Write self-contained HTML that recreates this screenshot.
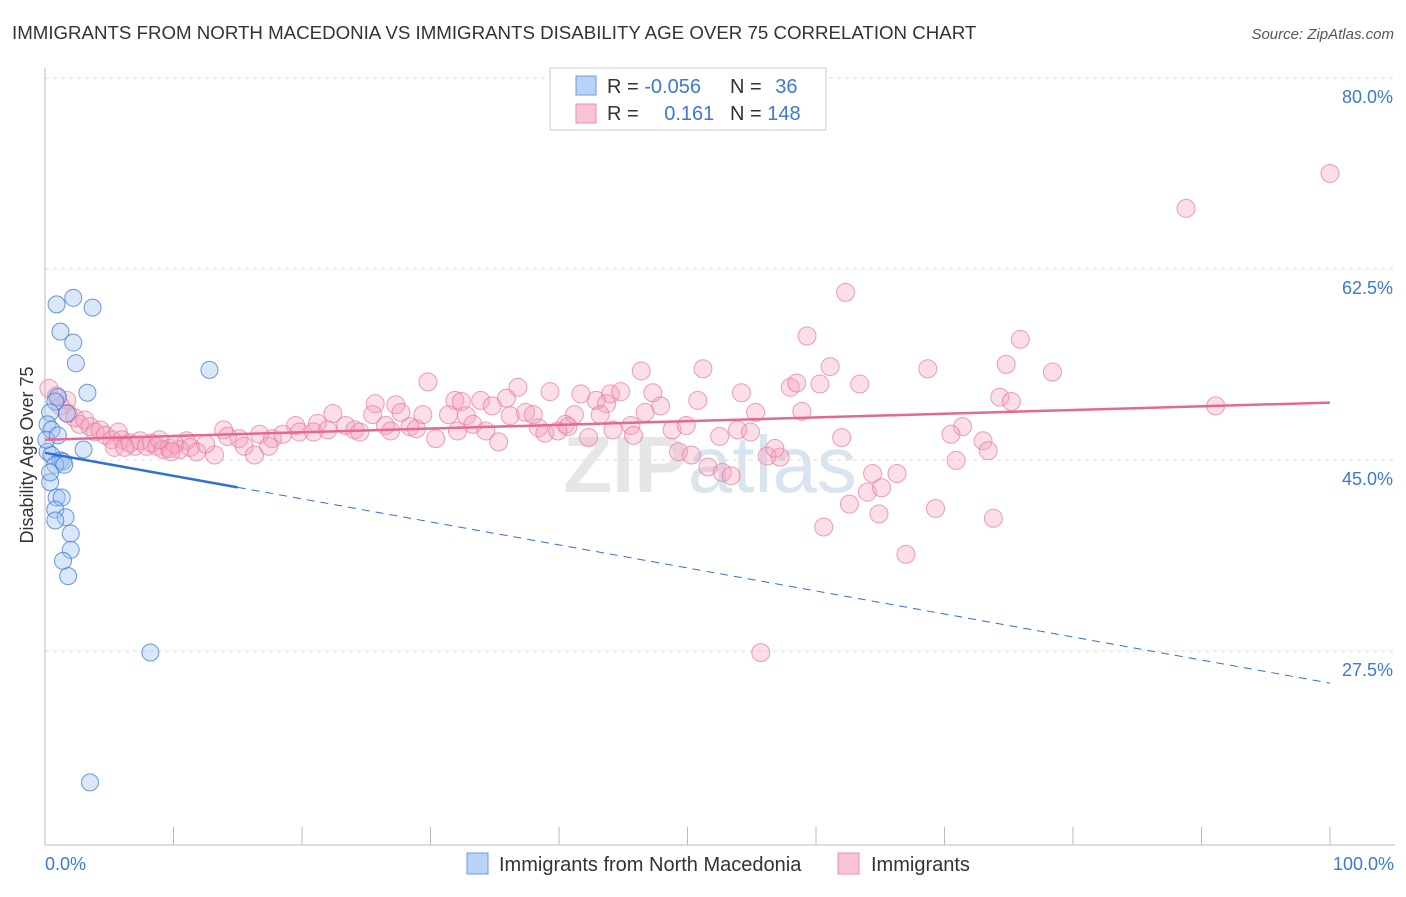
<!DOCTYPE html>
<html><head><meta charset="utf-8"><style>
body{margin:0;background:#fff;font-family:"Liberation Sans",sans-serif;}
svg text{font-family:"Liberation Sans",sans-serif;}
</style></head><body>
<svg width="1406" height="892" xmlns="http://www.w3.org/2000/svg">
<text x="12" y="39" font-size="18.7" fill="#333">IMMIGRANTS FROM NORTH MACEDONIA VS IMMIGRANTS DISABILITY AGE OVER 75 CORRELATION CHART</text>
<text x="1394" y="39" font-size="15" fill="#555" text-anchor="end" font-style="italic">Source: ZipAtlas.com</text>
<text x="710" y="492" font-size="80" fill="#e6e6e6" text-anchor="middle" font-weight="bold">ZIP<tspan font-weight="normal" fill="#d9e4f1">atlas</tspan></text>
<g id="grid"></g>
<g id="axes"></g>
<g id="marks"></g>
<text transform="translate(33,455) rotate(-90)" font-size="18" fill="#333" text-anchor="middle">Disability Age Over 75</text>
<text x="45" y="870" font-size="18" fill="#3b78d8">0.0%</text>
<text x="1394" y="870" font-size="18" fill="#3b78d8" text-anchor="end">100.0%</text>
<g>
<rect x="550" y="68" width="276" height="62" fill="#fff" stroke="#ccc"/>
<rect x="576" y="76" width="20" height="19" fill="#b8d3f5" stroke="#6a9de0"/>
<rect x="576" y="104" width="20" height="19" fill="#f8c4d4" stroke="#ec8fac"/>
<text x="607" y="93" font-size="20" fill="#333">R = <tspan fill="#3b78d8">-0.056</tspan></text>
<text x="730" y="93" font-size="20" fill="#333">N = <tspan fill="#3b78d8" dx="8">36</tspan></text>
<text x="607" y="120" font-size="20" fill="#333">R = <tspan fill="#3b78d8" dx="20">0.161</tspan></text>
<text x="730" y="120" font-size="20" fill="#333">N = <tspan fill="#3b78d8">148</tspan></text>
</g>
<g>
<rect x="467" y="853" width="21" height="21" fill="#b8d3f5" stroke="#6a9de0"/>
<text x="499" y="871" font-size="20" fill="#333">Immigrants from North Macedonia</text>
<rect x="838" y="853" width="21" height="21" fill="#f8c4d4" stroke="#ec8fac"/>
<text x="871" y="871" font-size="20" fill="#333">Immigrants</text>
</g>
</svg>
<script>
const yTicks=[80,62.5,45,27.5];
const yTickLabels=["80.0%","62.5%","45.0%","27.5%"];
const xTicks=[0,10,20,30,40,50,60,70,80,90,100];
const blueX=[0.9,2.2,3.7,1.2,2.2,2.4,12.8,3.3,1.0,0.8,1.7,0.4,0.2,0.5,3.0,0.2,0.5,1.2,1.4,0.8,0.4,0.9,1.3,0.8,1.6,0.8,2.0,2.0,1.4,1.8,8.2,3.5,0.1,1.0,0.4,1.5];
const blueY=[61.0,61.6,60.7,58.5,57.5,55.6,55.0,52.9,52.5,52.1,51.0,51.1,50.0,49.5,47.7,47.5,47.2,46.7,46.6,46.3,44.7,43.3,43.3,42.2,41.5,41.2,40.0,38.5,37.5,36.1,29.1,17.2,48.6,49.0,45.6,46.3];
const pinkX=[100,88.8,62.3,59.3,75.9,61.1,74.8,51.2,46.4,68.7,78.4,63.4,58.0,58.5,60.3,54.2,74.3,75.2,91.1,50.8,55.3,58.9,48.8,49.9,52.5,53.9,54.9,62.0,71.4,70.5,73.0,73.4,70.9,49.3,50.3,51.6,52.7,53.4,56.2,57.2,56.8,64.4,66.3,64.0,65.1,62.6,64.9,69.3,73.8,60.6,67.0,55.7,
29.8,36.8,39.3,41.7,44.0,44.8,47.3,25.7,27.3,31.9,32.4,33.9,35.9,34.8,42.9,43.7,47.9,22.4,25.5,27.7,29.4,31.4,32.8,36.2,37.4,38.0,41.2,43.2,46.7,19.5,21.2,23.4,26.5,28.4,33.3,38.4,40.5,40.7,44.2,45.6,15.1,16.7,17.7,18.5,19.8,20.9,22.0,24.1,24.5,26.9,28.9,30.4,32.1,34.3,35.3,38.9,39.9,42.3,45.8,13.9,14.2,15.5,16.3,17.4,13.2,11.8,12.5,11.0,10.5,
0.3,0.9,1.7,1.2,1.8,2.3,2.7,3.1,3.5,3.9,4.3,4.7,5.2,5.7,6.0,6.6,7.0,7.4,7.9,8.3,8.7,9.2,9.7,10.1,5.4,6.2,9.8,11.3,8.9];
const pinkY=[73.0,69.8,62.1,58.1,57.8,55.3,55.5,55.1,54.9,55.1,54.8,53.7,53.4,53.8,53.7,52.9,52.5,52.1,51.7,52.2,51.1,51.2,49.5,49.9,48.9,49.5,49.3,48.8,49.8,49.1,48.5,47.6,46.7,47.5,47.2,46.1,45.6,45.3,47.1,47.0,47.8,45.5,45.5,43.8,44.2,42.7,41.8,42.3,41.4,40.6,38.1,29.1,
53.9,53.4,53.0,52.8,52.8,53.0,52.9,51.9,51.8,52.2,52.1,52.2,52.4,51.7,52.2,51.9,51.7,51.0,50.9,51.1,50.9,50.9,50.8,50.8,51.1,50.9,50.9,50.9,51.1,49.9,50.1,49.9,49.9,49.8,50.0,49.7,50.0,49.8,49.5,49.9,48.7,49.1,48.7,49.1,49.3,49.3,49.5,49.5,49.3,49.4,49.6,48.7,49.4,49.4,48.4,49.2,49.4,48.8,49.0,49.5,48.9,48.0,47.2,48.0,47.2,47.5,48.2,48.5,47.7,
53.3,52.6,52.2,51.7,51.0,50.6,50.0,50.4,49.8,49.3,49.5,49.0,48.6,49.3,48.6,48.3,48.0,48.5,48.0,48.3,48.0,47.7,47.8,48.2,47.9,47.9,47.5,47.9,48.6];
const pinkTrend=[[0,48.6],[100,52.0]];
const blueTrend=[[0,47.4],[100,26.3]];
const blueSolidEnd=15;
const NS="http://www.w3.org/2000/svg";
const X=v=>45+v*12.85;
const Y=v=>97+(80-v)*10.914;
function mk(t,a,p){const e=document.createElementNS(NS,t);for(const k in a)e.setAttribute(k,a[k]);p.appendChild(e);return e;}
const grid=document.getElementById('grid'),axes=document.getElementById('axes'),marks=document.getElementById('marks');
yTicks.forEach((t,i)=>{
 const l=mk('line',{x1:45,x2:1395,y1:Y(t)-19,y2:Y(t)-19,stroke:'#ddd','stroke-dasharray':'4,4'},grid);
 
 
 const tx=mk('text',{x:1393,y:Y(t)+6,'font-size':18,fill:'#3b78d8','text-anchor':'end'},grid);
 tx.textContent=yTickLabels[i];
 
 
});
const ax=mk('line',{x1:45,x2:45,y1:68,y2:845,stroke:'#bbb'},axes);


const bx=mk('line',{x1:45,x2:1395,y1:845,y2:845,stroke:'#bbb'},axes);


xTicks.forEach(t=>{
 const l=mk('line',{x1:X(t),x2:X(t),y1:827,y2:845,stroke:'#bbb'},axes);
 
 
});
pinkX.forEach((x,i)=>{
 const c=mk('circle',{cx:X(x),cy:Y(pinkY[i]),r:9,fill:'rgba(244,160,185,0.35)',stroke:'rgba(232,120,155,0.7)','stroke-width':1},marks);
 
 
});
blueX.forEach((x,i)=>{
 const c=mk('circle',{cx:X(x),cy:Y(blueY[i]),r:8.5,fill:'rgba(160,196,240,0.4)',stroke:'rgba(60,120,216,0.75)','stroke-width':1},marks);
 
 
});
const by=x=>blueTrend[0][1]+(blueTrend[1][1]-blueTrend[0][1])*(x-blueTrend[0][0])/(blueTrend[1][0]-blueTrend[0][0]);
const bs=mk('line',{x1:X(0),y1:Y(by(0)),x2:X(blueSolidEnd),y2:Y(by(blueSolidEnd)),stroke:'#2f6fd6','stroke-width':2.5},marks);


const bd=mk('line',{x1:X(blueSolidEnd),y1:Y(by(blueSolidEnd)),x2:X(100),y2:Y(by(100)),stroke:'#2f6fd6','stroke-width':1,'stroke-dasharray':'8,6'},marks);


const pt=mk('line',{x1:X(pinkTrend[0][0]),y1:Y(pinkTrend[0][1]),x2:X(pinkTrend[1][0]),y2:Y(pinkTrend[1][1]),stroke:'#e5698f','stroke-width':2.5},marks);


</script>
</body></html>
